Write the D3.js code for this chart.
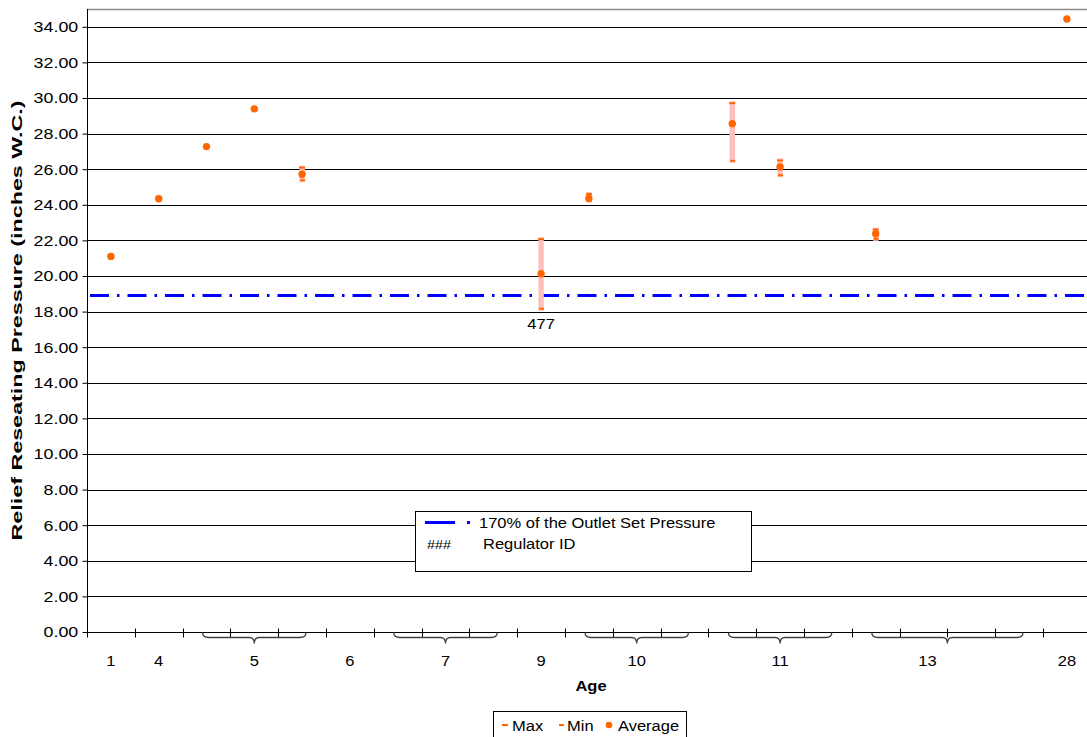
<!DOCTYPE html>
<html>
<head>
<meta charset="utf-8">
<script src="https://cdn.jsdelivr.net/npm/d3@7"></script>
<style>
  html, body { margin: 0; padding: 0; background: #fff; }
  svg { display: block; font-family: Arial, "Liberation Sans", sans-serif; }
</style>
</head>
<body>
<svg id="chart" width="1087" height="737"></svg>
<script>
// ---------- data ----------
const categories = d3.range(21); // 21 regulators along the x axis
const maxVals = [21.15, 24.40, 27.30, 29.42, 26.09, null, null, null, null, 22.07, 24.60, null, null, 29.71, 26.49, null, 22.61, null, null, null, 34.46];
const minVals = [21.05, 24.30, 27.25, 29.36, 25.38, null, null, null, null, 18.16, 24.25, null, null, 26.47, 25.66, null, 22.09, null, null, null, 34.42];
const avgVals = [21.10, 24.34, 27.27, 29.39, 25.72, null, null, null, null, 20.13, 24.35, null, null, 28.56, 26.13, null, 22.37, null, null, null, 34.44];
const ageLabels = ["1", "4", "5", "6", "7", "9", "10", "11", "13", "28"];
const ageStart  = [0, 1, 2, 5, 6, 9, 10, 13, 16, 20];
const ageEnd    = [0, 1, 4, 5, 8, 9, 12, 15, 19, 20];
const yTicks = d3.range(0, 35, 2);
const limitValue = 18.9;           // 170% of the outlet set pressure
const regulatorIds = [{ cat: 9, id: "477" }];

// ---------- layout ----------
const svg = d3.select("#chart");
const pLeft = 87, pTop = 9, pBottom = 632, catW = 47.8;
const x = d3.scaleBand().domain(categories).range([pLeft, pLeft + catW * categories.length]).padding(0);
const y = d3.scaleLinear().domain([0, 35]).range([pBottom, pTop]);
const pRight = 1087;
const orange = "#FF6600";
const fontSize = 15;
const SX = 1.1; // horizontal text stretch seen in the reference

function txt(parent, tx, ty, s, anchor, opts = {}) {
  const t = parent.append("text")
    .attr("transform", `translate(${tx},${ty}) scale(${opts.sx || SX},1)`)
    .attr("text-anchor", anchor || "start")
    .attr("font-size", opts.size || fontSize)
    .attr("fill", "#000")
    .text(s);
  if (opts.bold) t.attr("font-weight", "bold");
  return t;
}

// gridlines
svg.append("g").selectAll("line").data(yTicks.filter(d => d > 0)).join("line")
  .attr("x1", pLeft).attr("x2", pRight)
  .attr("y1", d => Math.round(y(d)) + 0.5).attr("y2", d => Math.round(y(d)) + 0.5)
  .attr("stroke", "#000").attr("stroke-width", 1);
// top border
svg.append("line").attr("x1", pLeft).attr("x2", pRight)
  .attr("y1", Math.round(y(35)) + 0.5).attr("y2", Math.round(y(35)) + 0.5)
  .attr("stroke", "#8c8c8c").attr("stroke-width", 1.5);

// y axis
const yAxis = d3.axisLeft(y).tickValues(yTicks).tickFormat(d3.format(".2f")).tickSize(5).tickPadding(4);
const gy = svg.append("g").attr("transform", `translate(${pLeft + 0.5},0)`).call(yAxis);
gy.select(".domain").attr("stroke", "#000").attr("d", `M0,${y(35)}V${pBottom + 1}`);
gy.selectAll(".tick line").attr("stroke", "#000");
gy.selectAll(".tick text").attr("font-size", fontSize).attr("fill", "#000")
  .attr("font-family", "Arial, 'Liberation Sans', sans-serif")
  .attr("x", -7.8).attr("transform", "scale(1.19,1)");

// x axis line
const axisY = pBottom + 0.5;
svg.append("line").attr("x1", pLeft).attr("x2", pRight).attr("y1", axisY).attr("y2", axisY)
  .attr("stroke", "#000");
// tick marks at category boundaries
const boundaries = d3.range(categories.length + 1).map(i => pLeft + i * catW);
svg.append("g").selectAll("line").data(boundaries).join("line")
  .attr("x1", d => Math.round(d) + 0.5).attr("x2", d => Math.round(d) + 0.5)
  .attr("y1", axisY - 4).attr("y2", axisY + 5)
  .attr("stroke", "#000");

// braces for multi-regulator age groups
const groups = ageLabels.map((lab, i) => ({ label: lab, s: ageStart[i], e: ageEnd[i] }));
groups.forEach(g => {
  const x0 = x(g.s), x1 = x(g.e) + catW;
  const cx = (x0 + x1) / 2;
  if (g.e > g.s) {
    const a = x0 + 20, b = x1 - 20;
    const yb = axisY + 5, yd = axisY + 11;
    const path = `M${a},${axisY} Q${a},${yb} ${a + 6},${yb} L${cx - 5},${yb} Q${cx},${yb} ${cx},${yd}` +
                 ` Q${cx},${yb} ${cx + 5},${yb} L${b - 6},${yb} Q${b},${yb} ${b},${axisY}`;
    svg.append("path").attr("d", path).attr("fill", "none").attr("stroke", "#404040").attr("stroke-width", 1.3);
  }
  const lx = (g.e - g.s >= 3) ? (x0 + x(g.e)) / 2 + 4 : cx;
  txt(svg, lx, 666, g.label, "middle");
});

// axis titles
txt(svg, 591, 691, "Age", "middle", { bold: true });
svg.append("text").attr("transform", `translate(22,${(pTop + pBottom) / 2}) rotate(-90)`)
  .attr("text-anchor", "middle").attr("font-size", 15).attr("font-weight", "bold")
  .attr("textLength", 440).attr("lengthAdjust", "spacingAndGlyphs")
  .text("Relief Reseating Pressure (inches W.C.)");

// limit line
const dashPattern = "19,8,2.5,8";
svg.append("line").attr("x1", pLeft + 3).attr("x2", pRight).attr("y1", y(limitValue)).attr("y2", y(limitValue))
  .attr("stroke", "#0000FF").attr("stroke-width", 3).attr("stroke-dasharray", dashPattern);

// high-low bars
const pts = categories.map(i => ({ i, max: maxVals[i], min: minVals[i], avg: avgVals[i] })).filter(d => d.avg != null);
const cxOf = i => x(i) + catW / 2;
svg.append("g").selectAll("rect").data(pts).join("rect")
  .attr("x", d => cxOf(d.i) - 2.7).attr("width", 5.4)
  .attr("y", d => y(d.max) - 2).attr("height", d => y(d.min) - y(d.max) + 4)
  .attr("fill", "#FFBFBF");
// max / min dash markers
svg.append("g").selectAll("rect").data(pts).join("rect")
  .attr("x", d => cxOf(d.i) - 3).attr("width", 6).attr("y", d => y(d.max) - 1).attr("height", 2).attr("fill", orange);
svg.append("g").selectAll("rect").data(pts).join("rect")
  .attr("x", d => cxOf(d.i) - 2).attr("width", 5).attr("y", d => y(d.min) - 1).attr("height", 2).attr("fill", orange);
// average markers
svg.append("g").selectAll("circle").data(pts).join("circle")
  .attr("cx", d => cxOf(d.i)).attr("cy", d => y(d.avg)).attr("r", 3.7).attr("fill", orange);

// regulator id labels
regulatorIds.forEach(d => txt(svg, cxOf(d.cat), y(minVals[d.cat]) + 20, d.id, "middle"));

// inner legend
const lg = svg.append("g");
lg.append("rect").attr("x", 415.5).attr("y", 511.5).attr("width", 336).attr("height", 60)
  .attr("fill", "#fff").attr("stroke", "#000");
lg.append("line").attr("x1", 425).attr("x2", 470).attr("y1", 522.5).attr("y2", 522.5)
  .attr("stroke", "#0000FF").attr("stroke-width", 3).attr("stroke-dasharray", "30,12,3,50");
txt(lg, 479, 528, "170% of the Outlet Set Pressure");
txt(lg, 427, 549, "###", "start", { size: 13 });
txt(lg, 483, 549, "Regulator ID");

// bottom legend
const bl = svg.append("g");
bl.append("rect").attr("x", 493.5).attr("y", 711.5).attr("width", 193).attr("height", 30)
  .attr("fill", "#fff").attr("stroke", "#000");
bl.append("rect").attr("x", 502).attr("y", 724).attr("width", 6).attr("height", 2).attr("fill", orange);
txt(bl, 512, 731, "Max");
bl.append("rect").attr("x", 559).attr("y", 724).attr("width", 5).attr("height", 2).attr("fill", orange);
txt(bl, 567, 731, "Min");
bl.append("circle").attr("cx", 609).attr("cy", 725).attr("r", 3.3).attr("fill", orange);
txt(bl, 618, 731, "Average");
</script>
</body>
</html>
